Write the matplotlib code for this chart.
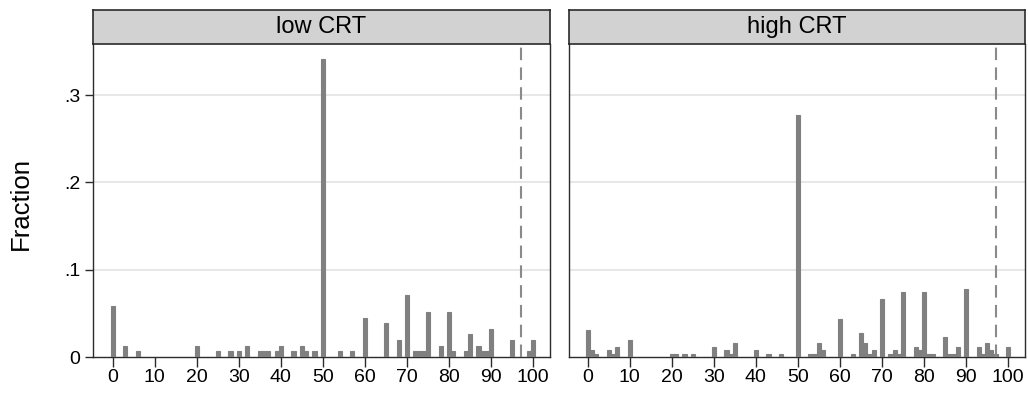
import matplotlib
matplotlib.use("Agg")
import matplotlib.pyplot as plt

plt.rcParams['font.family'] = ['Liberation Sans', 'DejaVu Sans']

# ---- data (fractions) ----
panels = ["low CRT", "high CRT"]

low_values = [0, 3, 6, 20, 25, 28, 30, 32, 35, 36, 37, 39, 40, 43, 45, 46, 48,
              50, 54, 57, 60, 65, 68, 70, 72, 73, 74, 75, 78, 80, 81, 84, 85,
              87, 88, 89, 90, 95, 99, 100]
low_frac = [0.0581, 0.0129, 0.0065, 0.0129, 0.0065, 0.0065, 0.0065, 0.0129,
            0.0065, 0.0065, 0.0065, 0.0065, 0.0129, 0.0065, 0.0129, 0.0065,
            0.0065, 0.3419, 0.0065, 0.0065, 0.0452, 0.0387, 0.0194, 0.0710,
            0.0065, 0.0065, 0.0065, 0.0516, 0.0129, 0.0516, 0.0065, 0.0065,
            0.0258, 0.0129, 0.0065, 0.0065, 0.0323, 0.0194, 0.0065, 0.0194]

high_values = [0, 1, 2, 5, 6, 7, 10, 20, 21, 23, 25, 30, 33, 34, 35, 40, 43, 46,
               50, 53, 54, 55, 56, 60, 63, 65, 66, 67, 68, 70, 72, 73, 74, 75,
               78, 79, 80, 81, 82, 85, 86, 87, 88, 90, 93, 94, 95, 96, 97, 100]
high_frac = [0.0313, 0.0078, 0.0039, 0.0078, 0.0039, 0.0117, 0.0195, 0.0039,
             0.0039, 0.0039, 0.0039, 0.0117, 0.0078, 0.0039, 0.0156, 0.0078,
             0.0039, 0.0039, 0.2773, 0.0039, 0.0039, 0.0156, 0.0078, 0.0430,
             0.0039, 0.0273, 0.0156, 0.0039, 0.0078, 0.0664, 0.0039, 0.0078,
             0.0039, 0.0742, 0.0117, 0.0078, 0.0742, 0.0039, 0.0039, 0.0234,
             0.0039, 0.0039, 0.0117, 0.0781, 0.0117, 0.0039, 0.0156, 0.0078,
             0.0039, 0.0117]

ref_line = 97
x_ticks = [0, 10, 20, 30, 40, 50, 60, 70, 80, 90, 100]
y_ticks = [0, 0.1, 0.2, 0.3]
y_ticklabels = ["0", ".1", ".2", ".3"]
ylabel = "Fraction"

# ---- figure ----
W, H = 1028, 394
fig = plt.figure(figsize=(W / 100, H / 100), dpi=100)

def fx(px):
    return px / W

def fy(py):
    return 1 - py / H

bar_color = "#808080"
frame_color = "#2b2b2b"

layouts = [(93, 550, -4.68), (569, 1025, -4.45)]
data = [(low_values, low_frac), (high_values, high_frac)]
top_px, bot_px, strip_top = 44, 357, 10

for i, (title, (l, r, xmin), (xs, ys)) in enumerate(zip(panels, layouts, data)):
    ax = fig.add_axes([fx(l), fy(bot_px), fx(r - l), (bot_px - top_px) / H])
    ax.bar(xs, ys, width=1.0, color=bar_color, edgecolor=bar_color,
           linewidth=0.8, zorder=3)
    ax.axvline(ref_line, color="#8a8a8a", lw=1.5, dashes=(6, 3.5), zorder=4)
    ax.set_xlim(xmin, 104.0)
    ax.set_ylim(0, 0.3586)
    ax.set_yticks(y_ticks)
    for yv in y_ticks[1:]:
        ax.axhline(yv, color="#e3e3e3", lw=1.2, zorder=1)
    ax.set_xticks(x_ticks)
    ax.set_xticklabels([str(v) for v in x_ticks], fontsize=14)
    ax.tick_params(axis='x', direction='out', length=7, width=1,
                   color=frame_color, pad=2)
    if i == 0:
        ax.set_yticklabels(y_ticklabels, fontsize=14)
        ax.tick_params(axis='y', direction='out', length=6, width=1,
                       color=frame_color, pad=3)
    else:
        ax.tick_params(axis='y', left=False, labelleft=False)
    for s in ['left', 'right', 'bottom']:
        ax.spines[s].set_color(frame_color)
        ax.spines[s].set_linewidth(1.0)
    ax.spines['top'].set_visible(False)

    # strip
    sax = fig.add_axes([fx(l), fy(top_px), fx(r - l), (top_px - strip_top) / H])
    sax.set_facecolor("#d2d2d2")
    sax.set_xticks([])
    sax.set_yticks([])
    for s in sax.spines.values():
        s.set_color(frame_color)
        s.set_linewidth(1.2)
    sax.text(0.5, 0.5, title, ha='center', va='center', fontsize=17,
             transform=sax.transAxes)

fig.text(fx(21), fy((top_px + bot_px) / 2 + 3), ylabel, rotation=90,
         ha='center', va='center', fontsize=18.5)

fig.savefig("out.png", dpi=100)
